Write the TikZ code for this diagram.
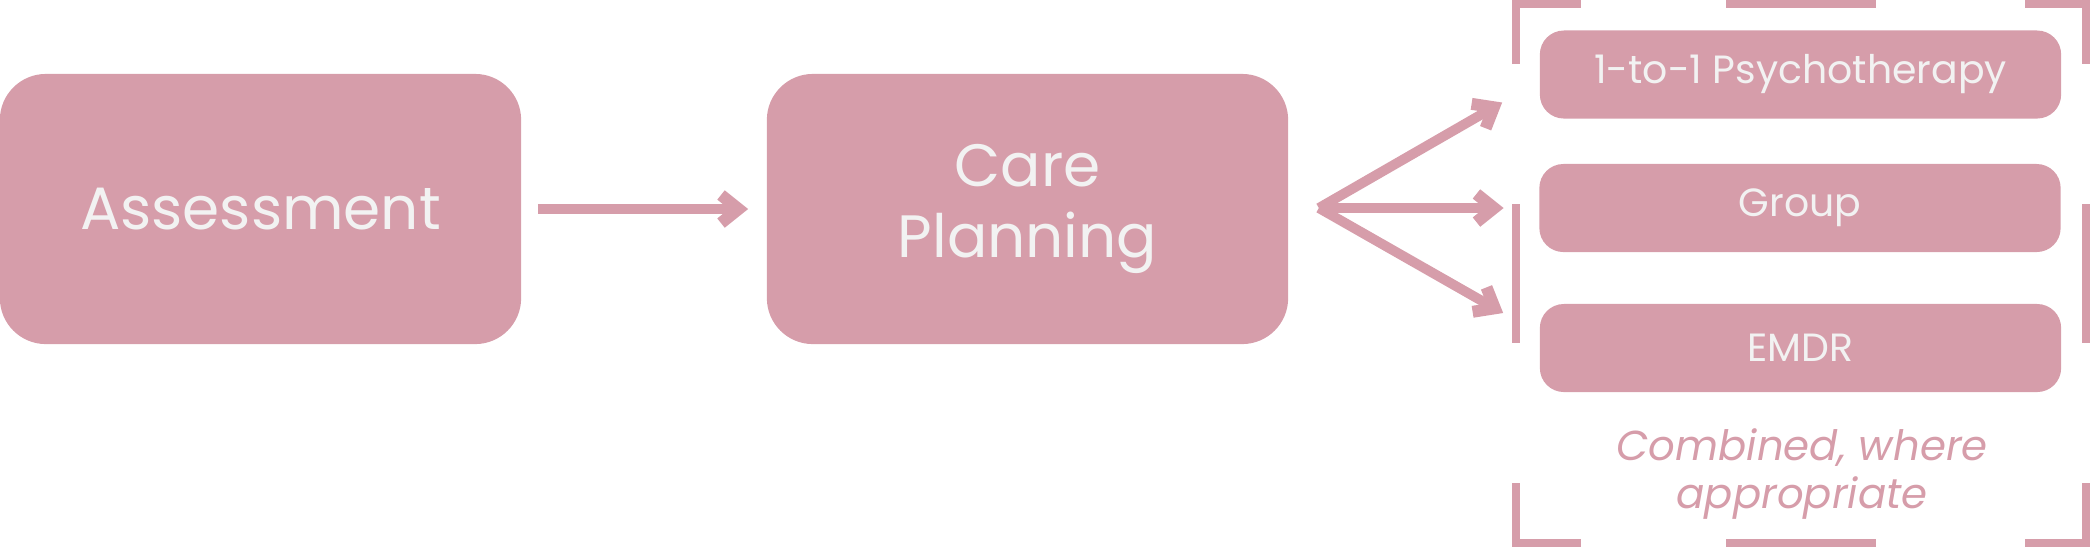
\documentclass[tikz,border=0pt]{standalone}
\usepackage{fontspec}
\setmainfont{Poppins}
\usepackage{tikz}
\usetikzlibrary{calc,arrows.meta}
\definecolor{rose}{RGB}{214,157,170}
\definecolor{paper}{RGB}{242,242,242}
\tikzset{
	bigbox/.style={fill=rose, rounded corners=0.46cm, minimum width=5.21cm, minimum height=2.70cm, inner sep=0pt, text=paper, align=center, font=\fontsize{17}{20.2}\selectfont},
	optbox/.style={fill=rose, rounded corners=0.24cm, minimum width=5.21cm, minimum height=0.88cm, inner sep=0pt, text=paper, font=\fontsize{11.2}{13}\selectfont},
	flow/.style={draw=rose, line width=2.8pt, -{Straight Barb[length=5pt,width=8pt,line width=3.4pt 0]}},
	dashframe/.style={draw=rose, line width=2.1pt}
}

\begin{document}
\begin{tikzpicture}[x=0.01cm, y=-0.01cm, line join=miter]
		\useasboundingbox (0,0) rectangle (2090,547);
		% main steps
		\node[bigbox] (assess) at (260.5,209) {Assessment};
		\node[bigbox] (care) at (1027.5,209) {Care\\Planning};
		% options
		\node[optbox] (psy) at (1800.5,74.5) {1-to-1 Psychotherapy};
		\node[optbox] (group) at (1800,208) {Group};
		\node[optbox] (emdr) at (1800.5,348) {EMDR};
		\node[text=rose, align=center, font=\fontsize{11.9}{13.4}\selectfont\itshape] (note) at (1802,474) {Combined, where\\appropriate};
		% arrows
		\draw[flow, shorten <=0.16cm, shorten >=0.18cm] (assess.east) -- (care.west);
		\coordinate (fork) at ($(care.east)+(30,-1)$);
		\draw[flow] (fork) -- ($(psy.west)+(-37,28)$);
		\draw[flow, shorten >=0.35cm] (fork) -- (group.west);
		\draw[flow] (fork) -- ($(emdr.west)+(-36,-35)$);
		% bracket round the options
		\draw[dashframe] (1516,64) -- (1516,4) -- (1581,4);
		\draw[dashframe] (1726,4) -- (1876,4);
		\draw[dashframe] (2025,4) -- (2086,4) -- (2086,64);
		\draw[dashframe] (1516,204) -- (1516,343);
		\draw[dashframe] (2086,204) -- (2086,343);
		\draw[dashframe] (1516,483) -- (1516,543) -- (1581,543);
		\draw[dashframe] (1726,543) -- (1876,543);
		\draw[dashframe] (2025,543) -- (2086,543) -- (2086,483);
	\end{tikzpicture}
\end{document}
